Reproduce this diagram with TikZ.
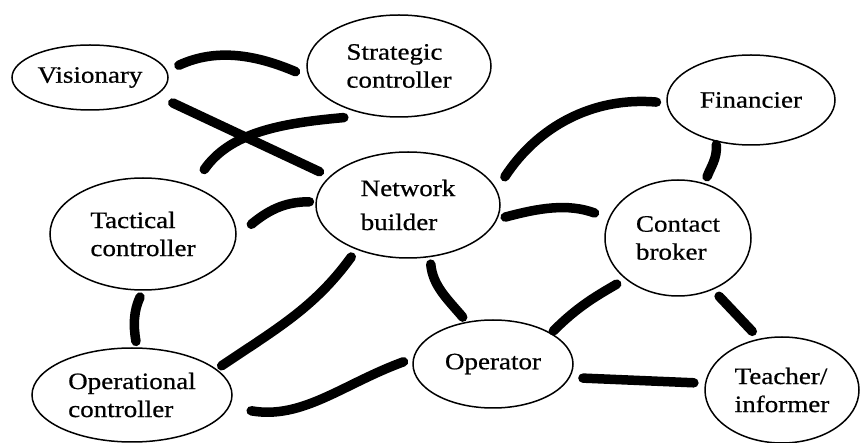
\documentclass[tikz,border=0pt]{standalone}
\usepackage{fontspec}
\setmainfont{Liberation Serif}[FakeStretch=1.15,FakeBold=0.6]
\usetikzlibrary{shapes.geometric}
\begin{document}
\begin{tikzpicture}[x=1pt,y=1pt,
  actor/.style={ellipse, draw=black, line width=1.5pt, inner sep=0pt,
    align=left, font=\fontsize{23.5}{28}\selectfont},
  link/.style={line width=9.5pt, line cap=round, draw=black}]
\useasboundingbox (0,0) rectangle (860,-443);
\fill[white] (0,0) rectangle (860,-443);

% roles
\node[actor, minimum width=156pt, minimum height=65pt]  (vis) at (90,-77.5) {Visionary};
\node[actor, minimum width=184pt, minimum height=102pt] (str) at (399,-66)  {Strategic\\controller};
\node[actor, minimum width=168pt, minimum height=90pt]  (fin) at (751,-100) {Financier};
\node[actor, minimum width=184pt, minimum height=106pt] (net) at (408,-205) {Network\\[6pt]builder};
\node[actor, minimum width=186pt, minimum height=112pt] (tac) at (143,-234) {Tactical\\controller};
\node[actor, minimum width=146pt, minimum height=116pt] (con) at (678,-238) {Contact\\broker};
\node[actor, minimum width=160pt, minimum height=88pt]  (op)  at (493,-364) {Operator};
\node[actor, minimum width=200pt, minimum height=94pt]  (opc) at (132,-395) {Operational\\controller};
\node[actor, minimum width=154pt, minimum height=106pt] (tea) at (782,-390) {Teacher/\\informer};

% ties between roles
\draw[link, shorten <=13pt, shorten >=14pt] (vis.5) to[out=25,in=157] (str.187);
\draw[link, shorten <=18pt, shorten >=11pt] (vis.-15) -- (net.160);
\draw[link, shorten >=20pt] ([yshift=-10pt]str.217) to[out=185,in=55] (tac.44);
\draw[link, shorten >=6pt] ([xshift=16pt]tac.6) to[out=40,in=180] (net.178);
\draw[link, shorten <=7pt, shorten >=6pt] (tac.-90) to[out=245,in=100] (opc.84);
\draw[link, shorten <=9pt, shorten >=6pt] (net.221) to[out=234,in=34] (opc.17);
\draw[link, shorten <=22pt, shorten >=10pt] (opc.-7) to[out=-10,in=200] (op.176);
\draw[link, shorten <=15pt, shorten >=10pt] (net.10) to[out=57,in=175] (fin.182);
\draw[link, shorten <=3pt, shorten >=7pt] (fin.230) to[out=275,in=70] (con.64);
\draw[link, shorten <=8pt, shorten >=15pt] (net.-9) to[out=15,in=160] (con.164);
\draw[link, shorten <=7pt, shorten >=6pt] (net.-67) to[out=275,in=130] (op.122);
\draw[link, shorten <=10pt, shorten >=3pt] (con.218) to[out=210,in=45] (op.28);
\draw[link, shorten <=9pt, shorten >=10pt] (con.-56) -- (tea.114);
\draw[link, shorten <=13pt, shorten >=11pt] (op.-10) -- (tea.175);
\end{tikzpicture}
\end{document}
